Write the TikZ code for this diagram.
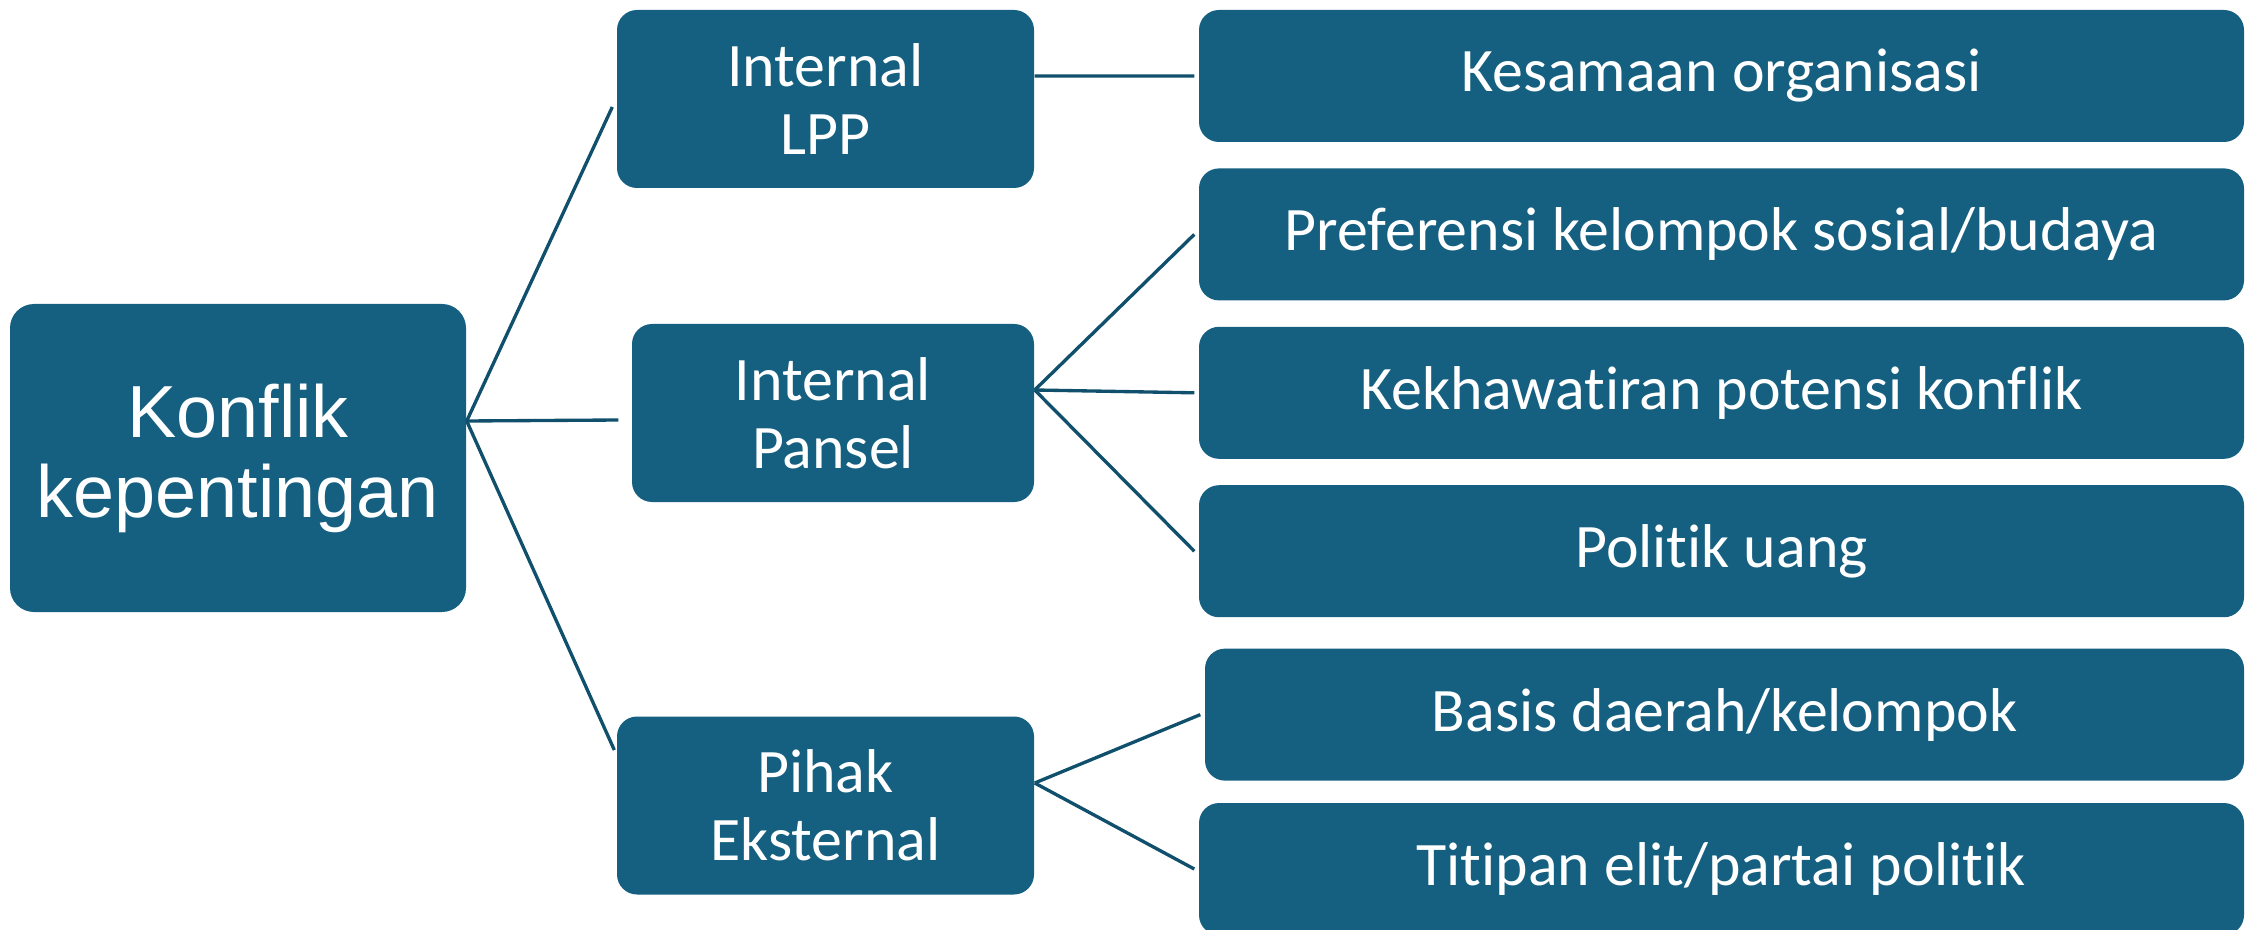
\documentclass[tikz,border=0pt]{standalone}
\usepackage{fontspec}
\setmainfont{Carlito}[Ligatures={NoCommon,NoContextual},RawFeature=-calt]
\newfontfamily\arialfont{Liberation Sans}
\usepackage{tikz}
\usetikzlibrary{positioning}
\definecolor{boxblue}{RGB}{21,96,128}
\definecolor{linkblue}{RGB}{17,80,108}
\tikzset{
  rootbox/.style={rectangle,rounded corners=2.4mm,fill=boxblue,text=white,align=center,minimum width=4.56cm,minimum height=3.08cm,inner sep=0pt,font=\arialfont\fontsize{21}{22.8}\selectfont},
  midbox/.style={rectangle,rounded corners=2mm,fill=boxblue,text=white,align=center,minimum width=4.17cm,minimum height=1.78cm,inner sep=0pt,font=\fontsize{17.6}{19.4}\selectfont},
  leafbox/.style={rectangle,rounded corners=2mm,fill=boxblue,text=white,align=center,minimum width=10.45cm,minimum height=1.32cm,inner sep=0pt,font=\fontsize{17.6}{19.4}\selectfont},
  link/.style={draw=linkblue,line width=0.95pt}
}

\begin{document}
\begin{tikzpicture}[node distance=0.25cm]
  \useasboundingbox (0,0) rectangle (22.55,-9.30);
  \node[rootbox] (root) at (2.38,-4.58) {Konflik\\kepentingan};
  \node[midbox] (lpp) at (8.255,-0.99) {Internal\\LPP};
  \node[midbox,minimum width=4.02cm] (pansel) at (8.33,-4.13) {Internal\\Pansel};
  \node[midbox] (eks) at (8.255,-8.055) {Pihak\\Eksternal};
  \node[leafbox] (kes) at (17.215,-0.76) {Kesamaan organisasi};
  \node[leafbox,below=of kes] (pref) {Preferensi kelompok sosial/budaya};
  \node[leafbox,below=of pref] (khaw) {Kekhawatiran potensi konflik};
  \node[leafbox,below=of khaw] (uang) {Politik uang};
  \node[leafbox,below=0.3cm of uang,minimum width=10.39cm,xshift=0.03cm] (basis) {Basis daerah/kelompok};
  \node[leafbox,below=0.21cm of basis,xshift=-0.03cm] (titip) {Titipan elit/partai politik};
  \coordinate (rootj) at ([yshift=3.7mm]root.east);
  \coordinate (panselj) at ([yshift=2.3mm]pansel.east);
  \coordinate (eksj) at ([yshift=2.25mm]eks.east);
  \draw[link] (rootj) -- ([xshift=-0.4mm,yshift=-0.8mm]lpp.west);
  \draw[link] (rootj) -- ([xshift=-1.3mm,yshift=-0.7mm]pansel.west);
  \draw[link] (rootj) -- ([xshift=-0.2mm,yshift=5.55mm]eks.west);
  \draw[link] ([yshift=2.3mm]lpp.east) -- ([xshift=-0.4mm]kes.west);
  \draw[link] (panselj) -- ([xshift=-0.4mm]pref.west);
  \draw[link] (panselj) -- ([xshift=-0.4mm]khaw.west);
  \draw[link] (panselj) -- ([xshift=-0.4mm]uang.west);
  \draw[link] (eksj) -- ([xshift=-0.4mm]basis.west);
  \draw[link] (eksj) -- ([xshift=-0.4mm]titip.west);
\end{tikzpicture}
\end{document}
